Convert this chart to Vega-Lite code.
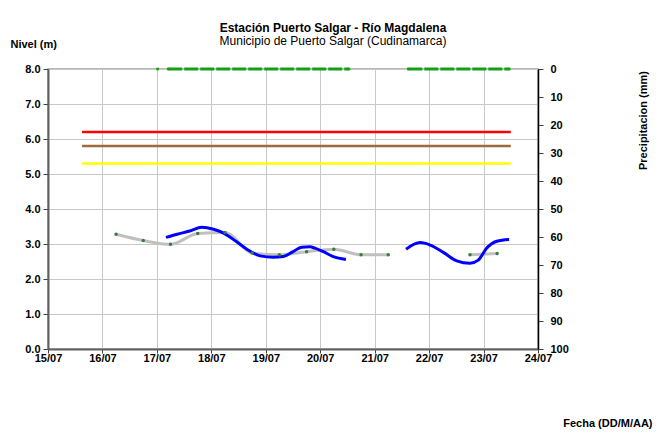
{
  "$schema": "https://vega.github.io/schema/vega-lite/v6.json",
  "width": 490,
  "height": 280,
  "autosize": {"type": "none"},
  "padding": {"left": 48, "top": 69, "right": 123, "bottom": 87},
  "background": "white",
  "title": {
    "text": "Estación Puerto Salgar - Río Magdalena",
    "subtitle": "Municipio de Puerto Salgar (Cudinamarca)",
    "anchor": "middle",
    "frame": "group",
    "dx": 40,
    "font": "Liberation Sans",
    "fontSize": 12,
    "fontWeight": "bold",
    "color": "black",
    "subtitleFont": "Liberation Sans",
    "subtitleFontSize": 12,
    "subtitleColor": "black",
    "subtitlePadding": 1,
    "offset": -10
  },
  "config": {
    "view": {"stroke": "#a0a0a0", "strokeWidth": 1.5},
    "axis": {
      "labelFont": "Liberation Sans",
      "labelFontSize": 11,
      "labelFontWeight": "bold",
      "labelColor": "black",
      "titleFont": "Liberation Sans",
      "titleFontSize": 11,
      "titleFontWeight": "bold",
      "titleColor": "black",
      "gridColor": "#c8c8c8",
      "gridWidth": 1,
      "tickColor": "#404040",
      "tickSize": 5
    }
  },
  "datasets": {
    "umbrales": [
      {"inicio": "2021-07-15T15:00:00", "fecha": "2021-07-23T12:00:00", "nivel": 6.2, "tipo": "Alerta roja"},
      {"inicio": "2021-07-15T15:00:00", "fecha": "2021-07-23T12:00:00", "nivel": 5.8, "tipo": "Alerta naranja"},
      {"inicio": "2021-07-15T15:00:00", "fecha": "2021-07-23T12:00:00", "nivel": 5.3, "tipo": "Alerta amarilla"}
    ],
    "manual": [
      {"fecha": "2021-07-16T06:00:00", "nivel": 3.28, "tramo": 1},
      {"fecha": "2021-07-16T18:00:00", "nivel": 3.10, "tramo": 1},
      {"fecha": "2021-07-17T06:00:00", "nivel": 2.99, "tramo": 1},
      {"fecha": "2021-07-17T18:00:00", "nivel": 3.30, "tramo": 1},
      {"fecha": "2021-07-18T06:00:00", "nivel": 3.33, "tramo": 1},
      {"fecha": "2021-07-18T18:00:00", "nivel": 2.74, "tramo": 1},
      {"fecha": "2021-07-19T06:00:00", "nivel": 2.69, "tramo": 1},
      {"fecha": "2021-07-19T18:00:00", "nivel": 2.78, "tramo": 1},
      {"fecha": "2021-07-20T06:00:00", "nivel": 2.85, "tramo": 1},
      {"fecha": "2021-07-20T18:00:00", "nivel": 2.69, "tramo": 1},
      {"fecha": "2021-07-21T06:00:00", "nivel": 2.69, "tramo": 1},
      {"fecha": "2021-07-22T18:00:00", "nivel": 2.69, "tramo": 2},
      {"fecha": "2021-07-23T06:00:00", "nivel": 2.73, "tramo": 2}
    ],
    "automatica": [
      {"fecha": "2021-07-17T04:00:00", "nivel": 3.19, "tramo": 1},
      {"fecha": "2021-07-17T09:00:00", "nivel": 3.28, "tramo": 1},
      {"fecha": "2021-07-17T14:30:00", "nivel": 3.37, "tramo": 1},
      {"fecha": "2021-07-17T19:45:00", "nivel": 3.48, "tramo": 1},
      {"fecha": "2021-07-18T01:00:00", "nivel": 3.42, "tramo": 1},
      {"fecha": "2021-07-18T06:00:00", "nivel": 3.29, "tramo": 1},
      {"fecha": "2021-07-18T11:00:00", "nivel": 3.07, "tramo": 1},
      {"fecha": "2021-07-18T15:30:00", "nivel": 2.86, "tramo": 1},
      {"fecha": "2021-07-18T21:30:00", "nivel": 2.66, "tramo": 1},
      {"fecha": "2021-07-19T03:20:00", "nivel": 2.62, "tramo": 1},
      {"fecha": "2021-07-19T07:45:00", "nivel": 2.64, "tramo": 1},
      {"fecha": "2021-07-19T12:00:00", "nivel": 2.78, "tramo": 1},
      {"fecha": "2021-07-19T15:50:00", "nivel": 2.91, "tramo": 1},
      {"fecha": "2021-07-19T19:30:00", "nivel": 2.92, "tramo": 1},
      {"fecha": "2021-07-19T21:40:00", "nivel": 2.88, "tramo": 1},
      {"fecha": "2021-07-20T01:20:00", "nivel": 2.78, "tramo": 1},
      {"fecha": "2021-07-20T05:45:00", "nivel": 2.64, "tramo": 1},
      {"fecha": "2021-07-20T11:20:00", "nivel": 2.56, "tramo": 1},
      {"fecha": "2021-07-21T13:50:00", "nivel": 2.85, "tramo": 2},
      {"fecha": "2021-07-21T20:00:00", "nivel": 3.04, "tramo": 2},
      {"fecha": "2021-07-22T00:30:00", "nivel": 2.97, "tramo": 2},
      {"fecha": "2021-07-22T06:15:00", "nivel": 2.76, "tramo": 2},
      {"fecha": "2021-07-22T12:10:00", "nivel": 2.52, "tramo": 2},
      {"fecha": "2021-07-22T18:00:00", "nivel": 2.45, "tramo": 2},
      {"fecha": "2021-07-22T21:40:00", "nivel": 2.54, "tramo": 2},
      {"fecha": "2021-07-23T01:20:00", "nivel": 2.88, "tramo": 2},
      {"fecha": "2021-07-23T05:50:00", "nivel": 3.08, "tramo": 2},
      {"fecha": "2021-07-23T11:15:00", "nivel": 3.13, "tramo": 2}
    ],
    "precipitacion": [
      {"fecha": "2021-07-17T00:20:00", "precip": 0, "tramo": 1},
      {"fecha": "2021-07-17T05:00:00", "precip": 0, "tramo": 2},
      {"fecha": "2021-07-20T12:40:00", "precip": 0, "tramo": 2},
      {"fecha": "2021-07-21T14:50:00", "precip": 0, "tramo": 3},
      {"fecha": "2021-07-23T11:20:00", "precip": 0, "tramo": 3}
    ]
  },
  "encoding": {
    "x": {
      "field": "fecha",
      "type": "temporal",
      "scale": {
        "domain": [
          {"year": 2021, "month": 7, "date": 15},
          {"year": 2021, "month": 7, "date": 24}
        ],
        "nice": false
      },
      "axis": {
        "title": "Fecha (DD/M/AA)",
        "titleX": 604,
        "titleY": 74,
        "titleAlign": "right",
        "titleBaseline": "middle",
        "tickCount": {"interval": "day", "step": 1},
        "format": "%d/%m",
        "labelFlush": false,
        "tickSize": 4,
        "labelPadding": -1,
        "labelOverlap": false,
        "domainColor": "#606060",
        "domainWidth": 2,
        "grid": true
      }
    }
  },
  "layer": [
    {
      "encoding": {
        "y": {
          "field": "nivel",
          "type": "quantitative",
          "scale": {"domain": [0, 8], "nice": false},
          "axis": {
            "title": "Nivel (m)",
            "titleAngle": 0,
            "titleAlign": "left",
            "titleBaseline": "middle",
            "titleX": -38,
            "titleY": -25,
            "values": [0, 1, 2, 3, 4, 5, 6, 7, 8],
            "format": ".1f",
            "labelPadding": 3,
            "labelOverlap": false,
            "domainColor": "#606060",
            "domainWidth": 2,
            "grid": true
          }
        }
      },
      "layer": [
        {
          "data": {"name": "umbrales"},
          "mark": {"type": "rule", "strokeWidth": 2.5},
          "encoding": {
            "x": {"field": "inicio", "type": "temporal"},
            "x2": {"field": "fecha"},
            "color": {
              "field": "tipo",
              "type": "nominal",
              "scale": {
                "domain": ["Alerta roja", "Alerta naranja", "Alerta amarilla"],
                "range": ["#ff0000", "#9c6b3c", "#ffff00"]
              },
              "legend": null
            }
          }
        },
        {
          "data": {"name": "manual"},
          "mark": {"type": "line", "color": "#c0c0c0", "strokeWidth": 3, "interpolate": "monotone"},
          "encoding": {
            "detail": {"field": "tramo", "type": "nominal"}
          }
        },
        {
          "data": {"name": "automatica"},
          "mark": {"type": "line", "color": "#0000ff", "strokeWidth": 3, "interpolate": "monotone"},
          "encoding": {
            "detail": {"field": "tramo", "type": "nominal"}
          }
        },
        {
          "data": {"name": "manual"},
          "mark": {"type": "point", "filled": true, "color": "#3a7a3a", "size": 12, "opacity": 1},
          "encoding": {}
        }
      ]
    },
    {
      "data": {"name": "precipitacion"},
      "mark": {"type": "line", "color": "#14a014", "strokeWidth": 3, "strokeDash": [14, 2], "clip": false,
               "point": {"shape": "square", "size": 7, "filled": true, "color": "#14a014"}},
      "encoding": {
        "y": {
          "field": "precip",
          "type": "quantitative",
          "scale": {"domain": [0, 100], "reverse": true, "nice": false},
          "axis": {
            "orient": "right",
            "title": "Precipitacion (mm)",
            "titleAngle": -90,
            "titleAlign": "center",
            "titleBaseline": "middle",
            "titleX": 105,
            "titleY": 51,
            "values": [0, 10, 20, 30, 40, 50, 60, 70, 80, 90, 100],
            "labelPadding": 7,
            "domainColor": "black",
            "domainWidth": 1.5,
            "grid": false
          }
        },
        "detail": {"field": "tramo", "type": "nominal"}
      }
    }
  ],
  "resolve": {"scale": {"y": "independent"}}
}
